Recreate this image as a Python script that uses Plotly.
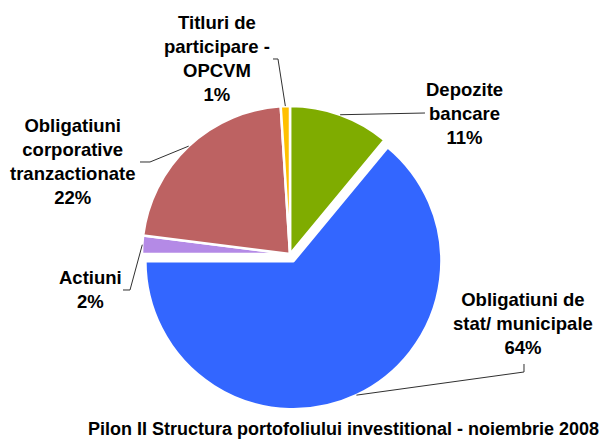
import math
import plotly.graph_objects as go

# ---- data ----
labels = ["Depozite bancare", "Obligatiuni de stat/ municipale", "Actiuni",
          "Obligatiuni corporative tranzactionate", "Titluri de participare - OPCVM"]
label_lines = [["Depozite", "bancare"], ["Obligatiuni de", "stat/ municipale"], ["Actiuni"],
               ["Obligatiuni", "corporative", "tranzactionate"], ["Titluri de", "participare -", "OPCVM"]]
values = [11, 64, 2, 22, 1]
colors = ["#7fac00", "#3366ff", "#b48ae6", "#bd6262", "#ffc000"]
pulls = [0, 0.054, 0, 0, 0]
title_text = "Pilon II Structura portofoliului investitional - noiembrie 2008"

# ---- layout (pixels) ----
W, H = 602, 440
CX, CY, R = 290, 254, 148
label_pos = [(464, 113), (523, 323.5), (90, 289.5), (72, 161.5), (217, 59)]
leader_end = [(425, 113), (524, 364), (123, 290), (140, 162), (273, 59)]
leader_elbow = [None, (524, 372), (130, 290), (150, 162), (278, 59)]

FONT = "Liberation Sans, Arial, sans-serif"

def px(x, y):
    return x / W, 1 - y / H

maxpull = max(pulls)
half = R * (1 + maxpull)

fig = go.Figure(go.Pie(
    labels=labels, values=values, sort=False, direction="clockwise", rotation=0,
    pull=pulls, textinfo="none", showlegend=False,
    marker=dict(colors=colors, line=dict(color="white", width=2.5)),
    domain=dict(x=[(CX - half) / W, (CX + half) / W], y=[1 - (CY + half) / H, 1 - (CY - half) / H]),
))

total = sum(values)
cum = 0
shapes = []
annotations = []
for i, v in enumerate(values):
    theta = math.radians(360 * (cum + v / 2) / total)
    cum += v
    ox = pulls[i] * R * math.sin(theta)
    oy = -pulls[i] * R * math.cos(theta)
    ex = CX + ox + R * math.sin(theta)
    ey = CY + oy - R * math.cos(theta)
    pts = [(ex, ey)]
    if leader_elbow[i] is not None:
        pts.append(leader_elbow[i])
    pts.append(leader_end[i])
    path = ""
    for j, (x, y) in enumerate(pts):
        a, b = px(x, y)
        path += ("M" if j == 0 else " L") + f" {a:.5f} {b:.5f}"
    shapes.append(dict(type="path", path=path, xref="paper", yref="paper",
                       line=dict(color="#303030", width=1)))
    pct = round(100 * v / total)
    text = "<br>".join(label_lines[i] + [f"{pct}%"])
    lx, ly = px(*label_pos[i])
    annotations.append(dict(text=text, x=lx, y=ly, xref="paper", yref="paper",
                            xanchor="center", yanchor="middle", showarrow=False, align="center",
                            font=dict(family=FONT, size=18.5, color="black", weight="bold")))

tx, _ = px(343, 0)
annotations.append(dict(text=title_text, x=tx, y=0, xref="paper", yref="paper",
                        xanchor="center", yanchor="bottom", showarrow=False, borderpad=0,
                        font=dict(family=FONT, size=18, color="black", weight="bold")))

fig.update_layout(width=W, height=H, margin=dict(l=0, r=0, t=0, b=0),
                  paper_bgcolor="white", plot_bgcolor="white",
                  shapes=shapes, annotations=annotations)
fig.write_html("out.html", config={"displayModeBar": False},
               post_script="document.body.style.margin='0';document.body.style.padding='0';")
